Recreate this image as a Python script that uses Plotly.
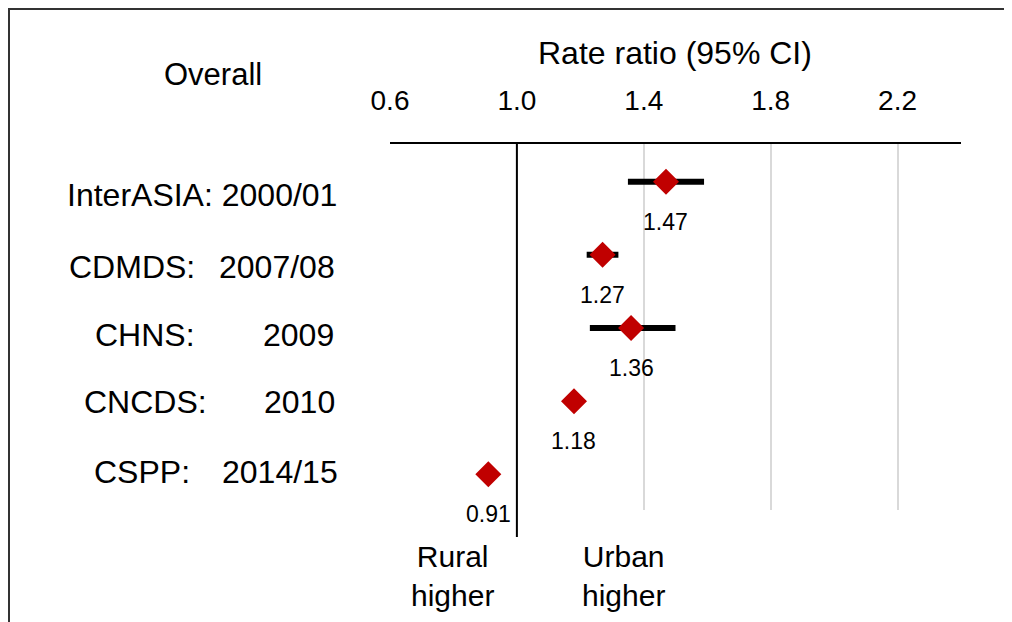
import plotly.graph_objects as go

# ---- data ----
studies = ["InterASIA", "CDMDS", "CHNS", "CNCDS", "CSPP"]
years = ["2000/01", "2007/08", "2009", "2010", "2014/15"]
rate_ratio = [1.47, 1.27, 1.36, 1.18, 0.91]
ci_lower = [1.35, 1.22, 1.23, 1.16, 0.89]
ci_upper = [1.59, 1.32, 1.50, 1.20, 0.93]
tick_values = [0.6, 1.0, 1.4, 1.8, 2.2]
tick_labels = ["0.6", "1.0", "1.4", "1.8", "2.2"]
row_index = list(range(len(studies)))

# ---- layout geometry (pixels in the reference picture) ----
OFF = 8  # page body offset
W, H = 1012 - OFF, 622 - OFF
L, R, T, B = 390, 961, 144, 510
FONT = "Liberation Sans, Arial, sans-serif"


def px_x(px):
    return (px - L) / (R - L)


def px_y(py):
    return (B - py) / (B - T)


def txt(px, py, text, size):
    return dict(x=px_x(px), y=px_y(py), xref="paper", yref="paper", text=text,
                showarrow=False, xanchor="center", yanchor="middle",
                font=dict(family=FONT, size=size, color="black"))


fig = go.Figure()

fig.add_trace(go.Scatter(
    x=rate_ratio,
    y=row_index,
    mode="markers",
    marker=dict(symbol="diamond", size=20, color="#C00000", line=dict(width=0)),
    error_x=dict(
        type="data",
        symmetric=False,
        array=[u - r for u, r in zip(ci_upper, rate_ratio)],
        arrayminus=[r - l for r, l in zip(rate_ratio, ci_lower)],
        color="black",
        thickness=6,
        width=0,
    ),
    showlegend=False,
    hoverinfo="skip",
    cliponaxis=False,
))

annotations = []
# value labels under markers
for v, i in zip(rate_ratio, row_index):
    annotations.append(dict(
        x=v, y=i, xref="x", yref="y", text=f"{v:.2f}", showarrow=False,
        xanchor="center", yanchor="middle",
        yshift=-40, font=dict(family=FONT, size=23, color="black"),
    ))

# row labels (name, year) – text positions in pixels
name_cx = [None, 131.5, 144.5, 145.5, 142]
year_cx = [None, 276.5, 298.5, 299, 279.5]
label_cy = [195, 267, 335, 402, 472]
for k, (s, yr) in enumerate(zip(studies, years)):
    if name_cx[k] is None:
        annotations.append(txt(201.5, label_cy[k], f"{s}: {yr}", 32))
    else:
        annotations.append(txt(name_cx[k], label_cy[k], f"{s}:", 32))
        annotations.append(txt(year_cx[k], label_cy[k], yr, 32))

annotations += [
    txt(213, 75, "Overall", 31),
    txt(675, 53, "Rate ratio (95% CI)", 32),
    txt(452, 575.5, "Rural<br>higher", 30),
    txt(623.5, 575.5, "Urban<br>higher", 30),
]

frame = dict(color="#333333", width=2)
shapes = [
    # reference line at 1.0 extending below plot area
    dict(type="line", xref="x", yref="paper", x0=1.0, x1=1.0, y0=px_y(537), y1=1,
         line=dict(color="black", width=2)),
    # outer frame (left and top edges visible)
    dict(type="line", xref="paper", yref="paper", x0=px_x(9), x1=px_x(9),
         y0=px_y(640), y1=px_y(8), line=frame, layer="below"),
    dict(type="line", xref="paper", yref="paper", x0=px_x(8), x1=px_x(1030),
         y0=px_y(9), y1=px_y(9), line=frame, layer="below"),
]

fig.update_layout(
    width=W, height=H,
    margin=dict(l=L - OFF, r=W - (R - OFF), t=T - OFF, b=H - (B - OFF), pad=0),
    paper_bgcolor="white", plot_bgcolor="white",
    font=dict(family=FONT, color="black"),
    xaxis=dict(
        range=[0.6, 2.4], side="top",
        tickvals=tick_values, ticktext=tick_labels,
        tickfont=dict(family=FONT, size=28, color="black"),
        showline=True, linecolor="black", linewidth=2, mirror=False,
        showgrid=True, gridcolor="#d9d9d9", gridwidth=1.5,
        zeroline=False, ticks="", ticklabelstandoff=21,
    ),
    yaxis=dict(
        range=[4.488, -0.515], visible=False, showgrid=False, zeroline=False,
    ),
    annotations=annotations,
    shapes=shapes,
    showlegend=False,
)

fig.write_html("out.html")
